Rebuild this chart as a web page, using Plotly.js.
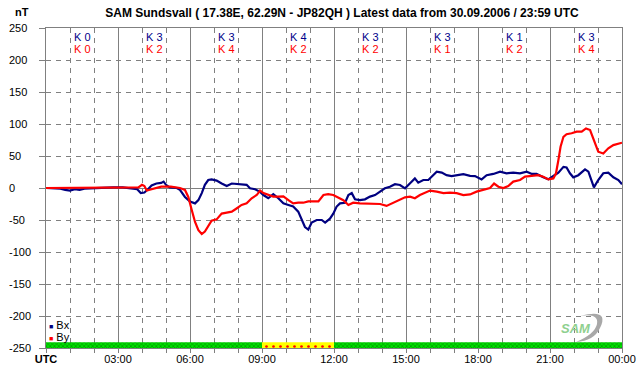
<!DOCTYPE html>
<html>
<head>
<meta charset="utf-8">
<script src="https://cdn.plot.ly/plotly-3.0.1.min.js"></script>
<style>html,body{margin:0;padding:0;background:#fff;}#chart{width:642px;height:376px;}</style>
</head>
<body>
<div id="chart"></div>
<script>
// ---- data (hours UTC, nT) ----
const bxHours = [0,0.3,0.6,0.8,1.0,1.2,1.4,1.6,2.0,2.4,2.8,3.2,3.5,3.8,3.95,4.1,4.25,4.4,4.6,4.8,4.9,5.0,5.15,5.3,5.45,5.58,5.79,6.0,6.21,6.35,6.49,6.62,6.76,6.9,7.11,7.32,7.53,7.74,7.94,8.15,8.36,8.5,8.71,8.92,9.06,9.26,9.47,9.68,9.89,10.1,10.3,10.51,10.65,10.79,10.93,11.07,11.28,11.49,11.63,11.83,11.97,12.11,12.25,12.46,12.6,12.74,12.875,13.08,13.29,13.5,13.71,13.92,14.12,14.33,14.54,14.75,14.96,15.17,15.37,15.51,15.72,15.93,16.07,16.28,16.49,16.69,16.9,17.11,17.39,17.67,17.875,18.15,18.36,18.64,18.92,19.19,19.47,19.75,20.03,20.24,20.44,20.72,20.93,21.14,21.35,21.56,21.69,21.83,21.97,22.18,22.46,22.6,22.74,22.83,23.01,23.22,23.43,23.64,23.85,24];
const bxValues = [0,0,-1,-3,-4,-2,-3,-1,0,0,1,1,0,-2,-8,-7,-2,4,7,8,10,5,1,0,0,-3,-14,-21,-24,-19,-8,5,12.5,13.5,11.5,7,3,7,6,6,5,-0.5,-2,-6,-11,-16,-9.5,-16,-24,-26.5,-29,-37,-50,-61,-65,-54,-50,-50,-54,-48,-40,-29,-24,-23,-11,-8,-17.7,-19,-17.7,-13.5,-11,-5.7,-0.5,2,6,4.7,-0.5,7.3,15,8.3,12.5,12.5,17.7,25.5,24,20,18.7,20,21.5,19,18.7,13.5,20,22,25.5,23,24,23,25.5,22,22,16.7,13.5,18.7,24,33,32,23,16.7,20,29,25.5,10,1,12.5,23,24,16.7,12.5,6];
const byHours = [0,0.5,0.9,1.2,2,3,3.5,3.85,4.0,4.1,4.2,4.4,4.6,4.8,5.2,5.45,5.58,5.79,5.93,6.07,6.21,6.35,6.49,6.62,6.76,6.9,7.11,7.32,7.53,7.74,7.94,8.15,8.36,8.57,8.78,8.92,9.06,9.26,9.47,9.68,9.89,10.1,10.3,10.51,10.72,10.93,11.14,11.35,11.56,11.76,11.97,12.11,12.39,12.6,12.8,13.08,13.35,13.6,13.92,14.19,14.46,14.75,14.96,15.17,15.37,15.58,15.79,16.0,16.28,16.56,16.83,17.11,17.39,17.67,17.94,18.22,18.5,18.67,18.85,19.06,19.26,19.47,19.75,19.96,20.24,20.51,20.72,20.93,21.14,21.25,21.35,21.44,21.56,21.69,21.9,22.11,22.32,22.5,22.67,22.81,23.01,23.22,23.43,23.64,23.85,24];
const byValues = [0,0,1,0,0,0,0,1,5,3,-4,-2,0,2,2,1,0,-3,-14,-34,-53,-66,-72,-68,-60,-51,-49,-40,-38.5,-37,-32,-26.5,-24,-16,-11,-4,-8,-11,-13.5,-13.5,-13,-19,-24,-23,-23,-21,-21,-21,-11,-9.5,-11,-13.5,-19,-26.5,-23,-24,-24,-25,-25,-28,-23,-17.7,-14.6,-13.5,-16,-11,-7.3,-4,-5.7,-8,-7.3,-8,-11,-10,-5.7,-3,0,7,2,0,3,10,12.5,17.7,18.7,20,17.7,13.5,15,23,43.7,64.5,80,84,85.5,88,88,93,90.6,77.6,56.7,54,62,67,68.7,70.8];

const xTickHours = [0,3,6,9,12,15,18,21,24];
const xTickLabels = ["<b>UTC</b>","03:00","06:00","09:00","12:00","15:00","18:00","21:00","00:00"];
const yTickValues = [250,200,150,100,50,0,-50,-100,-150,-200,-250];

const kCenters = [1.5,4.5,7.5,10.5,13.5,16.5,19.5,22.5];
const kBx = ["K 0","K 3","K 3","K 4","K 3","K 3","K 1","K 3"];
const kBy = ["K 0","K 2","K 4","K 2","K 2","K 1","K 2","K 4"];

const bandCenters = [1.5,4.5,7.5,10.5,13.5,16.5,19.5,22.5];
const bandStatus = ["ok","ok","ok","warn","ok","ok","ok","ok"];

const titleText = "SAM Sundsvall ( 17.38E, 62.29N - JP82QH ) Latest data from 30.09.2006 / 23:59 UTC";

// ---- layout helpers ----
const W = 642, H = 376, L = 46, R = 20, T = 28, B = 28;
const pw = W - L - R, ph = H - T - B;
const px = x => (x - L) / pw;
const py = y => (H - B - y) / ph;
const FONT = "Liberation Sans, Arial, sans-serif";
const GRID = "#808080";

const traces = [];
// status band
const okIdx = bandStatus.map((s,i)=>s==="ok"?i:-1).filter(i=>i>=0);
const warnIdx = bandStatus.map((s,i)=>s==="warn"?i:-1).filter(i=>i>=0);
traces.push({type:"bar", x: okIdx.map(i=>bandCenters[i]), y: okIdx.map(()=>9), base: -250, width: 3,
  marker:{color:"#00D000", line:{width:0}, pattern:{shape:"x", fgcolor:"#007800", bgcolor:"#00E000", size:3, solidity:0.3}},
  hoverinfo:"skip", showlegend:false});
traces.push({type:"bar", x: warnIdx.map(i=>bandCenters[i]), y: warnIdx.map(()=>9), base: -250, width: 3,
  marker:{color:"#FFFF00", line:{width:0}, pattern:{shape:".", fgcolor:"#FF0000", bgcolor:"#FFFF00", size:7, solidity:0.12}},
  hoverinfo:"skip", showlegend:false});
traces.push({type:"scatter", mode:"lines", x: bxHours, y: bxValues, line:{color:"#000080", width:2.2}, name:"Bx", showlegend:false});
traces.push({type:"scatter", mode:"lines", x: byHours, y: byValues, line:{color:"#FF0000", width:2.2}, name:"By", showlegend:false});

const annotations = [];
yTickValues.forEach(v => annotations.push({xref:"paper", yref:"y", x: px(7), y: v, xanchor:"left", yanchor:"middle",
  text: String(v), showarrow:false, font:{family:FONT, size:11, color:"#000"}}));
kCenters.forEach((c,i) => {
  annotations.push({xref:"x", yref:"paper", x:c, y:py(37), text:kBx[i], showarrow:false, xanchor:"center", yanchor:"middle",
    font:{family:FONT, size:11, color:"#00008B"}});
  annotations.push({xref:"x", yref:"paper", x:c, y:py(49), text:kBy[i], showarrow:false, xanchor:"center", yanchor:"middle",
    font:{family:FONT, size:11, color:"#FF0000"}});
});
annotations.push({xref:"paper", yref:"paper", x:px(22), y:py(12), text:"<b>nT</b>", showarrow:false, xanchor:"center", yanchor:"middle",
  font:{family:FONT, size:11, color:"#000"}});
annotations.push({xref:"paper", yref:"paper", x:px(47), y:py(325), text:'<span style="color:#000080;font-size:7px">■</span> Bx', showarrow:false, xanchor:"left", yanchor:"middle",
  font:{family:FONT, size:11, color:"#000"}});
annotations.push({xref:"paper", yref:"paper", x:px(47), y:py(337), text:'<span style="color:#FF0000;font-size:7px">■</span> By', showarrow:false, xanchor:"left", yanchor:"middle",
  font:{family:FONT, size:11, color:"#000"}});
annotations.push({xref:"paper", yref:"paper", x:px(576), y:py(328), text:"<i><b>SAM</b></i>", showarrow:false, xanchor:"center", yanchor:"middle",
  font:{family:FONT, size:13, color:"#8FD08F"}});

const shapes = [{type:"path", xref:"paper", yref:"paper",
  path:`M ${px(580)},${py(316)} Q ${px(610)},${py(308)} ${px(600)},${py(328)} Q ${px(594)},${py(341)} ${px(576)},${py(342)} Q ${px(595)},${py(334)} ${px(597)},${py(324)} Q ${px(599)},${py(313)} ${px(580)},${py(316)} Z`,
  fillcolor:"#A8A8A8", line:{width:0}, layer:"above"}];

const layout = {
  width: W, height: H,
  margin: {l:L, r:R, t:T, b:B, pad:0},
  paper_bgcolor:"#fff", plot_bgcolor:"#fff",
  font:{family:FONT, size:11, color:"#000"},
  title:{text:titleText, xref:"container", yref:"container", x:342/W, y:1-13/H, xanchor:"center", yanchor:"middle",
    font:{family:FONT, size:12, color:"#000", weight:"bold"}},
  barmode:"overlay",
  xaxis:{range:[0,24], tickmode:"array", tickvals:xTickHours, ticktext:xTickLabels,
    showgrid:true, gridcolor:GRID, gridwidth:1, zeroline:false,
    showline:true, linecolor:GRID, linewidth:1, mirror:true,
    ticks:"outside", ticklen:4, tickcolor:GRID, tickfont:{family:FONT, size:11, color:"#000"},
    ticklabelstandoff:-3,
    minor:{tickmode:"linear", tick0:0, dtick:1, showgrid:true, gridcolor:GRID, griddash:"5px,5px", ticks:"outside", ticklen:4, tickcolor:GRID},
    fixedrange:true},
  yaxis:{range:[-250,250], tickmode:"linear", tick0:-250, dtick:50,
    showgrid:true, gridcolor:GRID, griddash:"5px,5px", zeroline:true, zerolinecolor:GRID, zerolinewidth:1,
    showline:true, linecolor:GRID, linewidth:1, mirror:true,
    ticks:"outside", ticklen:6, tickcolor:GRID, showticklabels:false, fixedrange:true},
  annotations: annotations,
  shapes: shapes,
  showlegend:false
};

Plotly.newPlot("chart", traces, layout, {displayModeBar:false, staticPlot:true});
</script>
</body>
</html>
